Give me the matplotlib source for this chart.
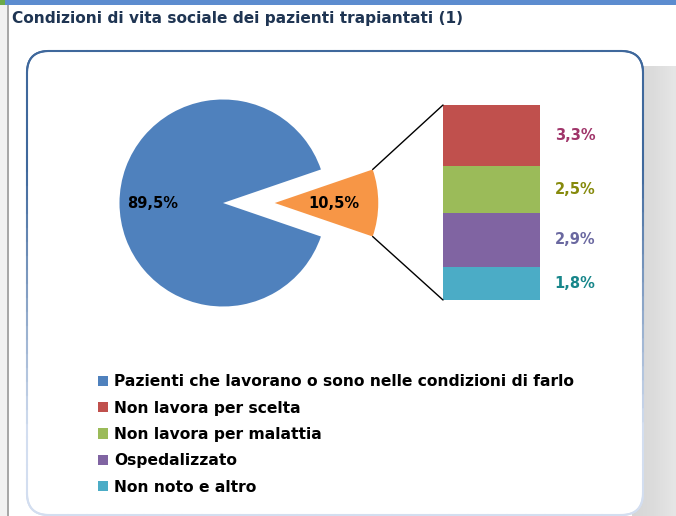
import numpy as np
import matplotlib
matplotlib.use("Agg")
import matplotlib.pyplot as plt
from matplotlib.patches import FancyBboxPatch, Rectangle, ConnectionPatch
from matplotlib.collections import LineCollection

# ---------------------------------------------------------------------------
# data
# ---------------------------------------------------------------------------
title = "Condizioni di vita sociale dei pazienti trapiantati (1)"

pie_labels = ["Pazienti che lavorano o sono nelle condizioni di farlo", "Altro"]
pie_values = [89.5, 10.5]

bar_labels = ["Non lavora per scelta", "Non lavora per malattia",
              "Ospedalizzato", "Non noto e altro"]
bar_values = [3.3, 2.5, 2.9, 1.8]

def fmt(v):
    return f"{v:.1f}%".replace(".", ",")

# ---------------------------------------------------------------------------
# style
# ---------------------------------------------------------------------------
PIE_COLORS = ["#4F81BD", "#F79646"]
BAR_COLORS = ["#C0504D", "#9BBB59", "#8064A2", "#4BACC6"]
BAR_TEXT = ["#A0356A", "#868A0C", "#6A68A0", "#17868A"]
FONT = "DejaVu Sans"

W, H = 676, 516
fig = plt.figure(figsize=(W / 100, H / 100), dpi=100)
ax = fig.add_axes([0, 0, 1, 1])

# slide decorations (window strip, left rule, shadow, rounded frame)
ax.add_patch(Rectangle((0, 0), W, 5, color="#5C8CCF", lw=0, zorder=0))
ax.add_patch(Rectangle((0, 0), 5, 5, color="#6BAA4A", lw=0, zorder=0))
ax.add_patch(Rectangle((0, 5), 7, H, color="#F2F2F2", lw=0, zorder=0))
ax.add_patch(Rectangle((7, 5), 2.2, H, color="#A8A8A8", lw=0, zorder=0))

shade = np.linspace(0, 1, 60)[None, :]
ax.imshow(np.vstack([shade] * 5), cmap=matplotlib.colors.LinearSegmentedColormap.from_list(
    "sh", ["#D6D6D6", "#DCDCDC", "#E6E6E6"]), extent=(632, W, H, 66),
    aspect="auto", zorder=0.5)

box = FancyBboxPatch((27, 51), 616, 464, boxstyle="round,pad=0,rounding_size=22",
                     fc="white", ec="none", zorder=1)
ax.add_patch(box)
pts = []
for seg, code in box.get_path().iter_bezier():
    pts.extend(seg(np.linspace(0, 1, 30, endpoint=False)))
pts = np.array(pts + [pts[0]])
segs = np.stack([pts[:-1], pts[1:]], axis=1)
ymid = segs[:, :, 1].mean(axis=1)
tt = np.clip((ymid - 170) / 260, 0, 1)[:, None]
c_top = np.array(matplotlib.colors.to_rgb("#3F689C"))
c_bot = np.array(matplotlib.colors.to_rgb("#D3DEF0"))
ax.add_collection(LineCollection(segs, colors=c_top * (1 - tt) + c_bot * tt,
                                 linewidths=1.5, capstyle="round", zorder=2))

ax.text(12, 19, title, fontsize=11.1, fontweight="bold", color="#1F3553",
        family=FONT, va="center", ha="left")

# ---------------------------------------------------------------------------
# pie (centred on the 10.5% slice)
# ---------------------------------------------------------------------------
center, radius = (223, 203), 103.5
half = pie_values[1] / 100 * 360 / 2
wedges, _ = ax.pie(pie_values[::-1], colors=PIE_COLORS[::-1], startangle=-half,
                   explode=[0.5 * radius, 0], center=center, radius=radius,
                   wedgeprops=dict(lw=0), frame=True)
w_other, w_main = wedges

ax.text(center[0] - 0.68 * radius, center[1] + 1, fmt(pie_values[0]),
        fontsize=10.5, fontweight="bold", family=FONT, ha="center", va="center", zorder=5)
ox = center[0] + 0.5 * radius
ax.text(ox + 0.57 * radius, center[1] + 1, fmt(pie_values[1]),
        fontsize=10.5, fontweight="bold", family=FONT, ha="center", va="center", zorder=5)

ax.set_xlim(0, W)
ax.set_ylim(H, 0)
ax.set_aspect("auto")
ax.axis("off")

# ---------------------------------------------------------------------------
# stacked bar
# ---------------------------------------------------------------------------
bx0, by0, bw, bh = 443, 105, 97, 195
bax = fig.add_axes([bx0 / W, 1 - (by0 + bh) / H, bw / W, bh / H])
total = sum(bar_values)
bottoms = np.cumsum([0] + bar_values[::-1][:-1])
bars = []
for val, bot, col in zip(bar_values[::-1], bottoms, BAR_COLORS[::-1]):
    bars.append(bax.bar(0, val, bottom=bot, width=1, color=col, lw=0, zorder=3))
bars = bars[::-1]
for val, bot, tc in zip(bar_values[::-1], bottoms, BAR_TEXT[::-1]):
    bax.text(0.86, bot + val / 2, fmt(val), color=tc, fontsize=10.5, fontweight="bold",
             family=FONT, ha="center", va="center", clip_on=False)
bax.set_xlim(-0.5, 0.5)
bax.set_ylim(0, total)
bax.axis("off")

# connector lines: slice edge -> bar corners
th = np.deg2rad(half)
for sgn, ycorner in [(-1, total), (1, 0)]:
    p = (ox + radius * np.cos(th), center[1] + sgn * radius * np.sin(th))
    fig.add_artist(ConnectionPatch(xyA=p, coordsA=ax.transData,
                                   xyB=(-0.5, ycorner), coordsB=bax.transData,
                                   color="black", lw=1.0, zorder=6))

# ---------------------------------------------------------------------------
# legend
# ---------------------------------------------------------------------------
handles = [w_main] + [b.patches[0] for b in bars]
labels = [pie_labels[0]] + bar_labels
leg = ax.legend(handles, labels, loc="upper left", bbox_to_anchor=(92 / W, 1 - 368 / H),
                bbox_transform=fig.transFigure, frameon=False,
                handlelength=0.65, handleheight=0.65, handletextpad=0.35,
                labelspacing=0.73, borderaxespad=0,
                prop=dict(family=FONT, weight="bold", size=11.2))
leg.set_zorder(6)

fig.savefig("out.png", dpi=100)
